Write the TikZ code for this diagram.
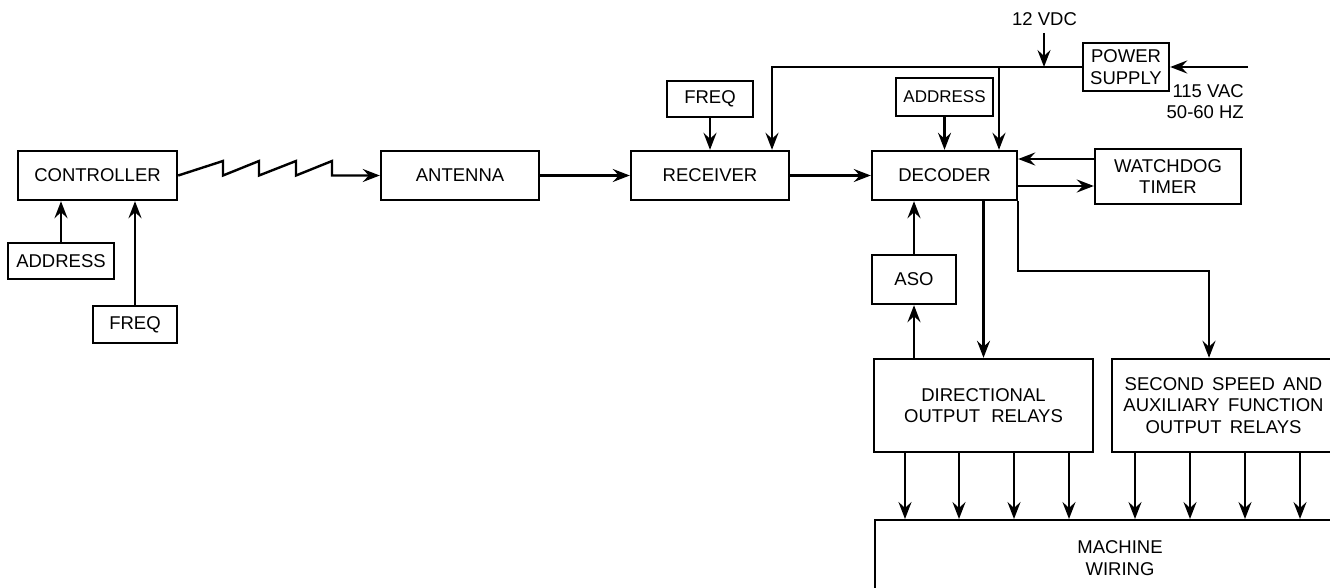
\documentclass[tikz,border=0pt]{standalone}
\usepackage{fontspec}
\setmainfont{Liberation Sans}
\usetikzlibrary{arrows.meta}
\begin{document}
\begin{tikzpicture}[x=1pt,y=-1pt,
  box/.style={draw, line width=2.4pt, inner sep=0pt, align=center, font=\fontsize{18.5}{21.5}\selectfont},
  lbl/.style={inner sep=0pt, font=\fontsize{18.5}{21.5}\selectfont},
  arr/.style={line width=2.4pt, -{Stealth[length=17pt, width=13pt, inset=6pt]}}]
\useasboundingbox (0,0) rectangle (1330,588);
\clip (0,0) rectangle (1330,588);
% nodes
\node[box, minimum width=159pt, minimum height=49pt] (ctrl) at (97.5,175.5) {CONTROLLER};
\node[box, minimum width=106pt, minimum height=36pt] (addrL) at (61,261) {ADDRESS};
\node[box, minimum width=84pt, minimum height=37pt] (freqL) at (135,324.5) {FREQ};
\node[box, minimum width=158pt, minimum height=49pt] (ant) at (460,175.5) {ANTENNA};
\node[box, minimum width=158pt, minimum height=49pt] (rcv) at (710,175.5) {RECEIVER};
\node[box, minimum width=86pt, minimum height=36pt] (freqT) at (710,99) {FREQ};
\node[box, minimum width=145pt, minimum height=49pt] (dec) at (944.5,175.5) {DECODER};
\node[box, minimum width=97pt, minimum height=38pt, font=\fontsize{17}{20}\selectfont] (addrD) at (944.5,97) {ADDRESS};
\node[box, minimum width=86pt, minimum height=48pt] (ps) at (1126,67) {POWER\\SUPPLY};
\node[box, minimum width=146pt, minimum height=55pt] (wd) at (1168,176.5) {WATCHDOG\\TIMER};
\node[box, minimum width=84pt, minimum height=49pt] (aso) at (914,279.5) {ASO};
\node[box, minimum width=219pt, minimum height=93pt] (dir) at (983.5,405.5) {DIRECTIONAL\\OUTPUT\hspace{0.6em}RELAYS};
\node[box, minimum width=223pt, minimum height=93pt] (ss) at (1223.5,405.5) {SECOND\hspace{0.45em}SPEED\hspace{0.45em}AND\\AUXILIARY\hspace{0.45em}FUNCTION\\OUTPUT\hspace{0.45em}RELAYS};
\node[box, minimum width=500pt, minimum height=120pt, anchor=north west] (mw) at (874,519) {};
\node[lbl, align=center] (mwt) at (1120,558) {MACHINE\\WIRING};
\node[lbl] (v12) at (1044.5,19.5) {12 VDC};
\node[lbl, align=right, anchor=east] (vac) at (1244,101.5) {115 VAC\\50-60 HZ};
\coordinate (v12s) at (1044,33);
\coordinate (acin) at (1248,67);
% left inputs
\draw[arr] (addrL.north) -- (addrL.north |- ctrl.south);
\draw[arr] (freqL.north) -- (freqL.north |- ctrl.south);
% zigzag radio link
\draw[arr, line join=miter] (ctrl.east) -- (223,161) -- (223,175.5) -- (259,161) -- (259,175.5) -- (296,161) -- (296,175.5) -- (332,161) -- (332,175.5) -- (ant.west);
\draw[arr] (ant.east) -- (rcv.west);
\draw[arr] (rcv.east) -- (dec.west);
\draw[arr] (freqT.south) -- (rcv.north);
\draw[arr] (addrD.south) -- (dec.north);
% power
\draw[arr] (ps.west) -- (772,67) -- (772,67 |- rcv.north);
\draw[arr] (999,67) -- (999,67 |- dec.north);
\draw[arr] (v12s) -- (1044,67);
\draw[arr] (acin) -- (ps.east);
% watchdog
\draw[arr] (wd.west |- 0,159) -- (dec.east |- 0,159);
\draw[arr] (dec.east |- 0,186) -- (wd.west |- 0,186);
% decoder outputs
\draw[arr] (dec.south -| dir.north) -- (dir.north);
\draw[arr] (1018,0 |- dec.south) -- (1018,271) -- (1209,271) -- (1209,0 |- ss.north);
\draw[arr] (914,0 |- dir.north) -- (aso.south);
\draw[arr] (aso.north) -- (914,0 |- dec.south);
% to machine wiring
\foreach \x in {905,959,1014,1069}{\draw[arr] (\x,0 |- dir.south) -- (\x,0 |- mw.north);}
\foreach \x in {1135,1190,1245,1300}{\draw[arr] (\x,0 |- ss.south) -- (\x,0 |- mw.north);}
\end{tikzpicture}
\end{document}
